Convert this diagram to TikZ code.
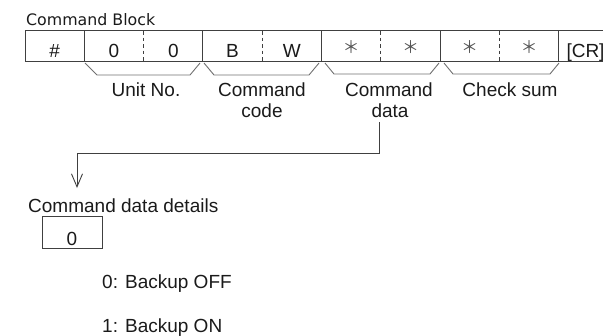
\documentclass[tikz,border=0pt]{standalone}
\usepackage{fontspec}
\setmainfont{Liberation Sans}
\newfontfamily\titlefont{DejaVu Sans}
\newfontfamily\cjk{Noto Sans CJK JP}
\usetikzlibrary{arrows.meta}
\definecolor{ln}{HTML}{404040}
\definecolor{br}{HTML}{707070}
\definecolor{tx}{HTML}{1A1A1A}
\definecolor{astc}{HTML}{555555}
\begin{document}
\begin{tikzpicture}[x=1pt,y=-1pt,
  lbl/.style={inner sep=0pt,anchor=base,text=tx,font=\fontsize{19}{21}\selectfont},
  ast/.style={inner sep=0pt,anchor=center,text=astc,font=\cjk\fontsize{17}{19}\selectfont},
  boxline/.style={draw=ln,line width=0.9pt},
  dashline/.style={draw=ln,line width=0.9pt,dash pattern=on 3.5pt off 3pt},
  bracel/.style={draw=br,line width=0.9pt},
  conn/.style={draw=ln,line width=0.9pt}]
\useasboundingbox (0,0) rectangle (604,335);
% title
\node[inner sep=0pt,anchor=base west,text=tx,font=\titlefont\fontsize{15.8}{18}\selectfont] (title) at (26,25) {Command Block};
% table frame
\draw[boxline] (25,30) -- (603,30);
\draw[boxline] (25,61) -- (603,61);
\foreach \x in {25,84.3,202.9,321.5,440.1,558.7}{\draw[boxline] (\x,30) -- (\x,61);}
\foreach \x in {143.6,262.2,380.8,499.4}{\draw[dashline] (\x,31) -- (\x,61);}
% cell contents
\node[lbl] (c1) at (54.6,57) {\#};
\node[lbl] (c2) at (114,57) {0};
\node[lbl] (c3) at (173.3,57) {0};
\node[lbl] (c4) at (232.5,57) {B};
\node[lbl] (c5) at (291.8,57) {W};
\node[ast] (c6) at (351,47.5) {＊};
\node[ast] (c7) at (410.5,47.5) {＊};
\node[ast] (c8) at (469.7,47.5) {＊};
\node[ast] (c9) at (529,47.5) {＊};
\node[lbl] (cr) at (585.5,57) {[CR]};
% braces
\draw[bracel] (85,63) -- (97,75) -- (190,75) -- (200,63);
\draw[bracel] (204,63) -- (214,75) -- (309,75) -- (319,63);
\draw[bracel] (325,63) -- (334,74) -- (430,74) -- (439,63);
\draw[bracel] (444,63) -- (453,74) -- (550,74) -- (559,63);
% labels
\node[lbl] (unit) at (146,96) {Unit No.};
\node[lbl] (code1) at (262,96) {Command};
\node[lbl] (code2) at (262,117) {code};
\node[lbl] (data1) at (389,96) {Command};
\node[lbl] (data2) at (390,117) {data};
\node[lbl] (sum) at (510,96) {Check sum};
% connector
\coordinate (tip) at (77,188);
\draw[conn,-{Straight Barb[length=13pt,width=11pt,line width=0.9pt]}] (379,122) -- (379,153) -| (tip);
% details
\node[lbl,anchor=base west] (details) at (28,212) {Command data details};
\node[draw=ln,line width=0.9pt,minimum width=60pt,minimum height=32pt,inner sep=0pt] (dbox) at (72,232) {};
\node[lbl] (d0) at (72,245) {0};
\node[lbl,anchor=base west] (off) at (102,288) {0: Backup OFF};
\node[lbl,anchor=base west] (on) at (102,332) {1: Backup ON};
\end{tikzpicture}
\end{document}
